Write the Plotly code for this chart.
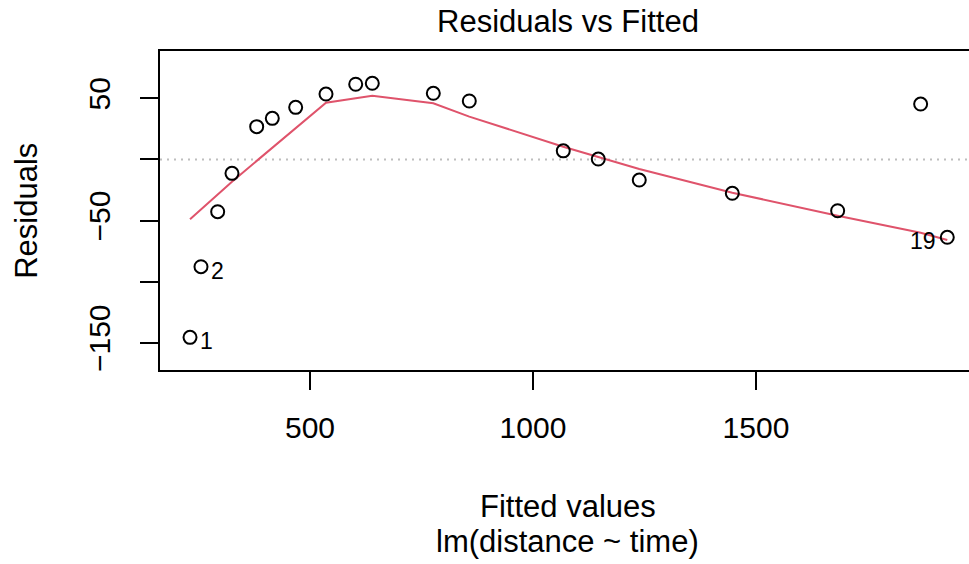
import plotly.graph_objects as go

# Data (sorted by fitted value)
fitted = [231, 255.6, 293, 325.1, 380.5, 415.5, 467.9, 535.9, 602.5, 639.7,
          776.5, 857.2, 1067.9, 1146.4, 1238.3, 1446.9, 1683.1, 1869.2, 1928.9]
residuals = [-145.6, -87.8, -42.8, -11.4, 26.8, 33.6, 42.6, 53.5, 61.5, 62.3,
             54.1, 47.8, 7.0, 0.3, -16.9, -27.7, -42.0, 45.3, -63.7]
smooth = [-49.0, -41.1, -28.5, -18.2, -1.2, 9.5, 25.5, 46.4, 50.0, 52.0,
          45.9, 35.0, 10.4, 1.7, -7.9, -27.2, -46.1, -60.0, -66.0]

id_labels = ["1", "2", "19"]
id_positions = [0, 1, 18]
id_side = ["right", "right", "left"]

x_ticks = [500, 1000, 1500]
x_ticktext = ["500", "1000", "1500"]
y_ticks = [50, 0, -50, -100, -150]
y_ticktext = ["50", "", "\u221250", "", "\u2212150"]

FONT = "Liberation Sans, Arial, Helvetica, sans-serif"

fig = go.Figure()

fig.add_trace(go.Scatter(
    x=fitted, y=smooth, mode="lines",
    line=dict(color="#DF536B", width=2),
    hoverinfo="skip", showlegend=False))

fig.add_trace(go.Scatter(
    x=fitted, y=residuals, mode="markers",
    marker=dict(symbol="circle-open", size=13, color="black",
                line=dict(color="black", width=2)),
    showlegend=False))

# dotted zero line
fig.add_shape(type="line", xref="paper", x0=0, x1=1, yref="y", y0=0, y1=0,
              line=dict(color="#bebebe", width=2, dash="2px,5px"), layer="below")

annotations = []
for lab, idx, side in zip(id_labels, id_positions, id_side):
    annotations.append(dict(
        x=fitted[idx], y=residuals[idx], xref="x", yref="y", text=lab,
        showarrow=False, font=dict(family=FONT, size=23, color="black"),
        xanchor="left" if side == "right" else "right",
        xshift=8 if side == "right" else -9, yshift=-4))

annotations += [
    dict(text="Residuals vs Fitted", xref="paper", yref="paper", x=0.5043, y=1.0922,
         xanchor="center", yanchor="middle", showarrow=False,
         font=dict(family=FONT, size=31, color="black")),
    dict(text="Fitted values", xref="paper", yref="paper", x=0.5043, y=-0.4273,
         xanchor="center", yanchor="middle", showarrow=False,
         font=dict(family=FONT, size=31, color="black")),
    dict(text="lm(distance ~ time)", xref="paper", yref="paper", x=0.5043, y=-0.537,
         xanchor="center", yanchor="middle", showarrow=False,
         font=dict(family=FONT, size=31, color="black")),
    dict(text="Residuals", xref="paper", yref="paper", x=-0.1653, y=0.5,
         xanchor="center", yanchor="middle", showarrow=False, textangle=-90,
         font=dict(family=FONT, size=31, color="black")),
]

fig.update_layout(
    width=969, height=564,
    margin=dict(l=160, r=0, t=51, b=194),
    paper_bgcolor="white", plot_bgcolor="white",
    font=dict(family=FONT, size=30, color="black"),
    annotations=annotations,
    xaxis=dict(range=[163.7, 1977.6], tickvals=x_ticks, ticktext=x_ticktext,
               showgrid=False, zeroline=False, showline=True, mirror=True,
               linecolor="black", linewidth=2, ticks="outside", ticklen=18,
               tickwidth=2, tickcolor="black", ticklabelstandoff=12,
               tickfont=dict(family=FONT, size=30, color="black")),
    yaxis=dict(range=[-172.3, 88.7], tickvals=y_ticks, ticktext=y_ticktext,
               showgrid=False, zeroline=False, showline=True, mirror=False,
               linecolor="black", linewidth=2, ticks="outside", ticklen=18,
               tickwidth=2, tickcolor="black", tickangle=-90, ticklabelstandoff=18,
               tickfont=dict(family=FONT, size=30, color="black")),
)

fig.write_html("out.html")
